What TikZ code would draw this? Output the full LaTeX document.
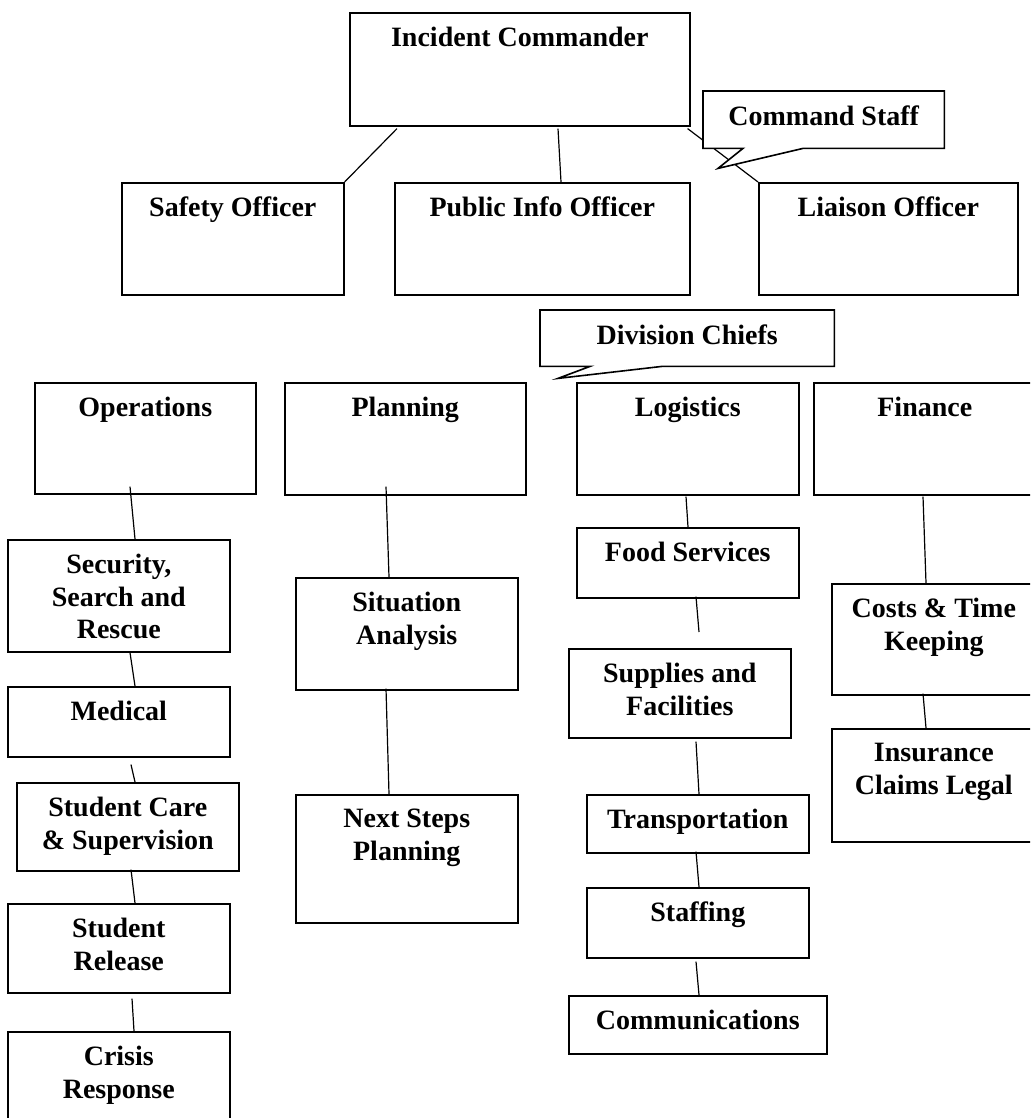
\documentclass[tikz,border=0pt]{standalone}
\usepackage{fontspec}
\setmainfont{Liberation Serif}
\tikzset{
  box/.style={draw, line width=1.6pt, rectangle, anchor=north west, inner sep=0pt},
  lbl/.style={font=\fontsize{28}{32.5}\selectfont\bfseries, align=center, inner sep=0pt, anchor=north},
  conn/.style={line width=1.2pt},
  callout/.style={draw, fill=white, line width=1.6pt, line join=miter},
  cbox/.style={rectangle, anchor=north west, inner sep=0pt},
}
\begin{document}
\begin{tikzpicture}[x=1pt, y=-1pt]
\useasboundingbox (0,0) rectangle (1030,1118);
\clip (0,0) rectangle (1030,1118);
% boxes
\node[box, minimum width=340pt, minimum height=113pt] (ic) at (349,12) {};
\node[box, minimum width=222pt, minimum height=112pt] (safety) at (121,182) {};
\node[box, minimum width=295pt, minimum height=112pt] (public) at (394,182) {};
\node[box, minimum width=259pt, minimum height=112pt] (liaison) at (758,182) {};
\node[box, minimum width=221pt, minimum height=111pt] (ops) at (34,382) {};
\node[box, minimum width=241pt, minimum height=112pt] (plan) at (284,382) {};
\node[box, minimum width=222pt, minimum height=112pt] (log) at (576,382) {};
\node[box, minimum width=222pt, minimum height=112pt] (fin) at (813,382) {};
\node[box, minimum width=222pt, minimum height=112pt] (sec) at (7,539) {};
\node[box, minimum width=222pt, minimum height=70pt] (med) at (7,686) {};
\node[box, minimum width=222pt, minimum height=88pt] (care) at (16,782) {};
\node[box, minimum width=222pt, minimum height=89pt] (release) at (7,903) {};
\node[box, minimum width=222pt, minimum height=110pt] (crisis) at (7,1031) {};
\node[box, minimum width=222pt, minimum height=112pt] (sit) at (295,577) {};
\node[box, minimum width=222pt, minimum height=128pt] (next) at (295,794) {};
\node[box, minimum width=222pt, minimum height=70pt] (food) at (576,527) {};
\node[box, minimum width=222pt, minimum height=89pt] (supp) at (568,648) {};
\node[box, minimum width=222pt, minimum height=58pt] (trans) at (586,794) {};
\node[box, minimum width=222pt, minimum height=70pt] (staff) at (586,887) {};
\node[box, minimum width=258pt, minimum height=58pt] (comms) at (568,995) {};
\node[box, minimum width=204pt, minimum height=111pt] (costs) at (831,583) {};
\node[box, minimum width=204pt, minimum height=113pt] (ins) at (831,728) {};
% labels
\node[lbl] (icT) at ([yshift=-15pt]ic.north) {Incident Commander};
\node[lbl] (safetyT) at ([yshift=-15pt]safety.north) {Safety Officer};
\node[lbl] (publicT) at ([yshift=-15pt]public.north) {Public Info Officer};
\node[lbl] (liaisonT) at ([yshift=-15pt]liaison.north) {Liaison Officer};
\node[lbl] (opsT) at ([yshift=-15pt]ops.north) {Operations};
\node[lbl] (planT) at ([yshift=-15pt]plan.north) {Planning};
\node[lbl] (logT) at ([yshift=-15pt]log.north) {Logistics};
\node[lbl] (finT) at ([yshift=-15pt]fin.north) {Finance};
\node[lbl] (secT) at ([yshift=-15pt]sec.north) {Security,\\Search and\\Rescue};
\node[lbl] (medT) at ([yshift=-15pt]med.north) {Medical};
\node[lbl] (careT) at ([yshift=-15pt]care.north) {Student Care\\\& Supervision};
\node[lbl] (releaseT) at ([yshift=-15pt]release.north) {Student\\Release};
\node[lbl] (crisisT) at ([yshift=-15pt]crisis.north) {Crisis\\Response};
\node[lbl] (sitT) at ([yshift=-15pt]sit.north) {Situation\\Analysis};
\node[lbl] (nextT) at ([yshift=-15pt]next.north) {Next Steps\\Planning};
\node[lbl] (foodT) at ([yshift=-15pt]food.north) {Food Services};
\node[lbl] (suppT) at ([yshift=-15pt]supp.north) {Supplies and\\Facilities};
\node[lbl] (transT) at ([yshift=-15pt]trans.north) {Transportation};
\node[lbl] (staffT) at ([yshift=-15pt]staff.north) {Staffing};
\node[lbl] (commsT) at ([yshift=-15pt]comms.north) {Communications};
\node[lbl] (costsT) at ([yshift=-15pt]costs.north) {Costs \& Time\\Keeping};
\node[lbl] (insT) at ([yshift=-15pt]ins.north) {Insurance\\Claims Legal};
% connectors
\draw[conn] ([shift={(48,2)}]ic.south west) -- (safety.north east);
\draw[conn] ([shift={(209,2)}]ic.south west) -- ([shift={(167,0)}]public.north west);
\draw[conn] ([shift={(-3,2)}]ic.south east) -- (liaison.north west);
\draw[conn] ([shift={(96,-8)}]ops.south west) -- ([shift={(128,0)}]sec.north west);
\draw[conn] ([shift={(123,0)}]sec.south west) -- ([shift={(128,0)}]med.north west);
\draw[conn] ([shift={(124,7)}]med.south west) -- ([shift={(119,0)}]care.north west);
\draw[conn] ([shift={(115,-2)}]care.south west) -- ([shift={(128,0)}]release.north west);
\draw[conn] ([shift={(125,5)}]release.south west) -- ([shift={(127,0)}]crisis.north west);
\draw[conn] ([shift={(102,-9)}]plan.south west) -- ([shift={(94,0)}]sit.north west);
\draw[conn] ([shift={(91,-2)}]sit.south west) -- ([shift={(94,0)}]next.north west);
\draw[conn] ([shift={(110,1)}]log.south west) -- ([shift={(112,0)}]food.north west);
\draw[conn] ([shift={(120,-2)}]food.south west) -- ([shift={(131,-16)}]supp.north west);
\draw[conn] ([shift={(128,3)}]supp.south west) -- ([shift={(113,0)}]trans.north west);
\draw[conn] ([shift={(110,-2)}]trans.south west) -- ([shift={(113,0)}]staff.north west);
\draw[conn] ([shift={(110,3)}]staff.south west) -- ([shift={(131,0)}]comms.north west);
\draw[conn] ([shift={(110,1)}]fin.south west) -- ([shift={(95,0)}]costs.north west);
\draw[conn] ([shift={(92,-2)}]costs.south west) -- ([shift={(95,0)}]ins.north west);
% callouts
\node[cbox, minimum width=241pt, minimum height=57pt] (cs) at (703,91) {};
\draw[callout] ([xshift=40pt]cs.south west) -- (cs.south west) -- (cs.north west) -- (cs.north east) -- (cs.south east) -- ([xshift=100pt]cs.south west) -- ([shift={(15,20)}]cs.south west) -- cycle;
\node[lbl] (csT) at ([yshift=-15pt]cs.north) {Command Staff};
\node[cbox, minimum width=294pt, minimum height=56pt] (dc) at (540,310) {};
\draw[callout] ([xshift=50pt]dc.south west) -- (dc.south west) -- (dc.north west) -- (dc.north east) -- (dc.south east) -- ([xshift=122pt]dc.south west) -- ([shift={(18,12)}]dc.south west) -- cycle;
\node[lbl] (dcT) at ([yshift=-15pt]dc.north) {Division Chiefs};
\end{tikzpicture}
\end{document}
